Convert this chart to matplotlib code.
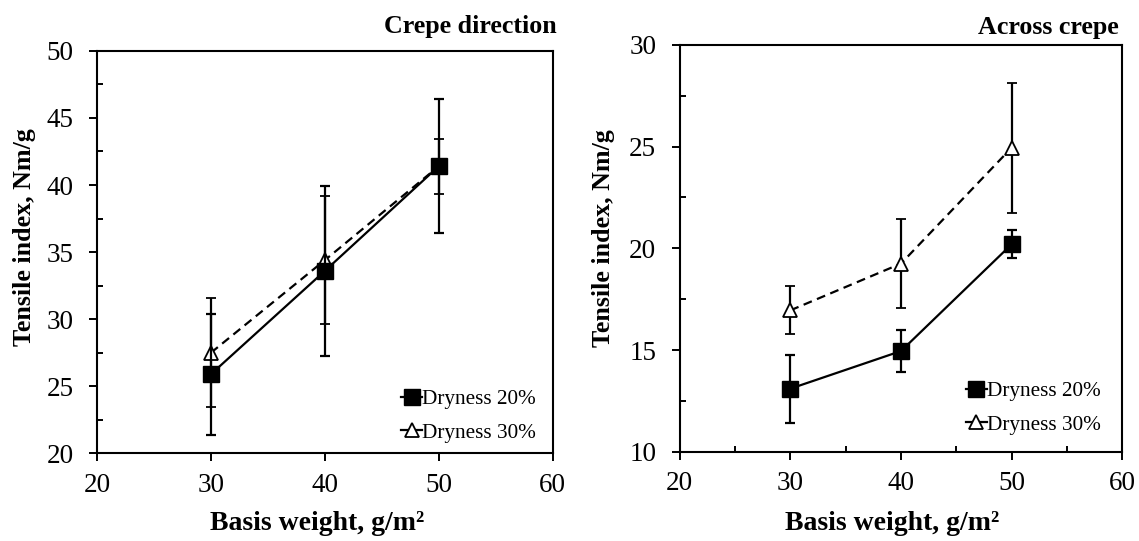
import matplotlib
matplotlib.use("Agg")
import matplotlib.pyplot as plt
from matplotlib.ticker import MultipleLocator
from matplotlib.lines import Line2D

plt.rcParams['font.family'] = ['Liberation Serif', 'DejaVu Serif']

basis_weight = [30, 40, 50]

# Crepe direction
crepe_d20 = [25.9, 33.6, 41.4]
crepe_d20_err = [4.5, 6.35, 5.0]
crepe_d30 = [27.5, 34.4, 41.4]
crepe_d30_err = [4.05, 4.75, 2.05]

# Across crepe
across_d20 = [13.1, 14.95, 20.2]
across_d20_err = [1.67, 1.03, 0.7]
across_d30 = [16.95, 19.25, 24.95]
across_d30_err = [1.18, 2.2, 3.2]

labels = ["Dryness 20%", "Dryness 30%"]
titles = ["Crepe direction", "Across crepe"]
xlabel = "Basis weight, g/m²"
ylabel = "Tensile index, Nm/g"

fig = plt.figure(figsize=(11.39, 5.41), dpi=100)
ax1 = fig.add_axes([0.0852, 0.162, 0.400, 0.744])
ax2 = fig.add_axes([0.5967, 0.165, 0.3887, 0.752])

def draw(ax, y1, e1, y2, e2, ylim, ymajor, yminor, xminor, title, title_xy,
         leg_anchor, xlab_xy, ylab_xy):
    ax.errorbar(basis_weight, y2, yerr=e2, color='black', lw=1.6, ls=(0, (4, 2.5)),
                marker='^', markersize=9.5, markerfacecolor='white', markeredgecolor='black',
                markeredgewidth=1.3, capsize=3.8, elinewidth=1.6, capthick=1.6, zorder=3)
    ax.errorbar(basis_weight, y1, yerr=e1, color='black', lw=1.6, ls='-',
                marker='s', markersize=11, markerfacecolor='black', markeredgecolor='black',
                capsize=3.8, elinewidth=1.6, capthick=1.6, zorder=4)
    ax.set_xlim(20, 60)
    ax.set_ylim(*ylim)
    ax.xaxis.set_major_locator(MultipleLocator(10))
    ax.yaxis.set_major_locator(MultipleLocator(ymajor))
    ax.yaxis.set_minor_locator(MultipleLocator(yminor))
    if xminor:
        ax.xaxis.set_minor_locator(MultipleLocator(xminor))
    else:
        ax.xaxis.set_minor_locator(plt.NullLocator())
    ax.tick_params(axis='both', which='major', direction='out', length=5.8, width=1.4,
                   labelsize=19.5)
    ax.tick_params(axis='y', which='major', pad=11)
    ax.tick_params(axis='x', which='major', pad=8)
    ax.tick_params(axis='both', which='minor', direction='in', length=4.3, width=1.4)
    for s in ax.spines.values():
        s.set_linewidth(1.5)
    ax.set_xlabel(xlabel, fontsize=20, fontweight='bold')
    ax.set_ylabel(ylabel, fontsize=18.7, fontweight='bold')
    ax.xaxis.set_label_coords(*xlab_xy)
    ax.yaxis.set_label_coords(*ylab_xy)
    ax.text(title_xy[0], title_xy[1], title, transform=ax.transAxes, ha='right',
            va='center', fontsize=18.7, fontweight='bold')
    handles = [
        Line2D([0], [0], color='black', lw=1.6, marker='s', markersize=11,
               markerfacecolor='black'),
        Line2D([0], [0], color='black', lw=1.6, marker='^', markersize=9.5,
               markerfacecolor='white', markeredgewidth=1.3),
    ]
    ax.legend(handles, labels, loc='lower right', frameon=False, fontsize=15.3,
              handlelength=1.0, handletextpad=0.0, labelspacing=0.65,
              bbox_to_anchor=leg_anchor, borderpad=0)

draw(ax1, crepe_d20, crepe_d20_err, crepe_d30, crepe_d30_err, (20, 50), 5, 2.5, None,
     titles[0], (1.008, 1.061), (0.987, 0.0), (0.484, -0.142), (-0.135, 0.536))
draw(ax2, across_d20, across_d20_err, across_d30, across_d30_err, (10, 30), 5, 2.5, 5,
     titles[1], (0.992, 1.044), (0.975, 0.0156), (0.48, -0.145), (-0.145, 0.525))

fig.savefig("out.png", dpi=100)
